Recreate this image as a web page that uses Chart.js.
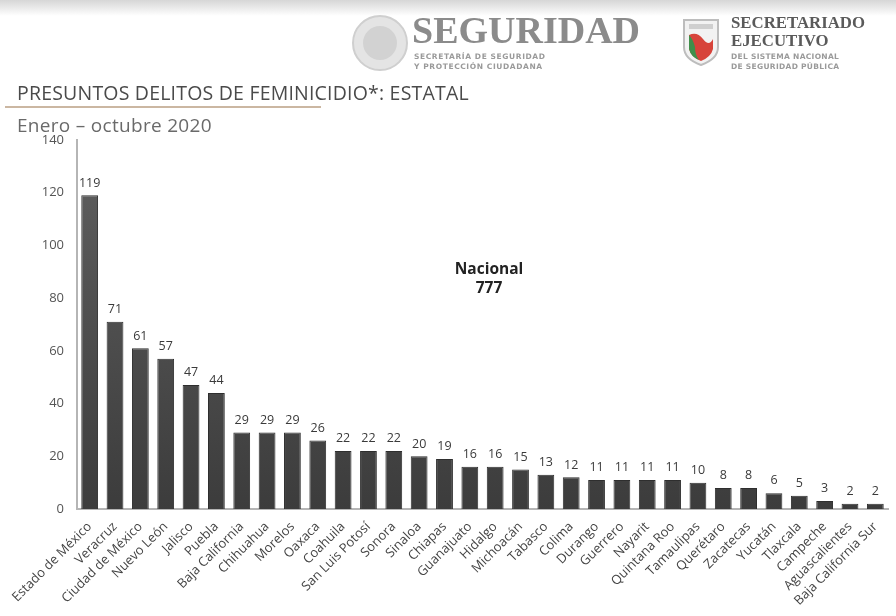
<!DOCTYPE html>
<html>
<head>
<meta charset="utf-8">
<script src="https://cdn.jsdelivr.net/npm/chart.js@4"></script>
<style>
  html, body { margin: 0; padding: 0; background: #fff; }
  #wrap { position: relative; width: 896px; height: 616px; overflow: hidden; font-family: "Open Sans", sans-serif; }
  #topband { position: absolute; left: 0; top: 0; width: 896px; height: 16px; background: linear-gradient(#d6d6d6, #fff); }
  #chart { position: absolute; left: 0; top: 0; }
  .t { position: absolute; white-space: nowrap; }
  #seg { left: 412px; top: 8px; font: bold 38px "Liberation Serif", serif; color: #8b8b8b; }
  #segsub { left: 414px; top: 52px; font: bold 7.5px "DejaVu Sans", sans-serif; color: #9a9a9a; line-height: 10px; letter-spacing: 0.6px; }
  #sec { left: 731px; top: 14px; font: bold 16.8px "Liberation Serif", serif; color: #5a5a5a; line-height: 18px; }
  #secsub { left: 731px; top: 52px; font: bold 7.5px "DejaVu Sans", sans-serif; color: #9a9a9a; line-height: 10px; letter-spacing: 0.3px; }
  #title { left: 17px; top: 79px; font-size: 19.5px; color: #4a4a4a; letter-spacing: 0.2px; }
  #rule { position: absolute; left: 5px; top: 106px; width: 316px; height: 2px; background: #cbb7a2; }
  #sub { left: 17px; top: 112px; font-size: 19px; color: #6a6a6a; letter-spacing: 0.3px; }
  #nac { left: 430px; top: 259px; width: 118px; text-align: center; font: bold 15.5px "Open Sans", sans-serif; color: #222; line-height: 19px; }
</style>
</head>
<body>
<div id="wrap">
  <div id="topband"></div>
  <canvas id="chart" width="896" height="616"></canvas>
  <svg class="t" style="left:350px;top:14px" width="60" height="58">
    <circle cx="30" cy="29" r="27" fill="#e4e4e4" stroke="#cfcfcf" stroke-width="2"/>
    <circle cx="30" cy="29" r="17" fill="#d2d2d2"/>
  </svg>
  <div class="t" id="seg">SEGURIDAD</div>
  <div class="t" id="segsub">SECRETARÍA DE SEGURIDAD<br>Y PROTECCIÓN CIUDADANA</div>
  <svg class="t" style="left:681px;top:17px" width="40" height="50">
    <path d="M3 3 H37 V30 Q37 42 20 48 Q3 42 3 30 Z" fill="#f2f2f2" stroke="#bdbdbd" stroke-width="2"/>
    <path d="M8 18 Q16 14 22 22 Q28 30 32 22 V32 Q30 40 20 44 Q10 40 8 32 Z" fill="#d7433a"/>
    <path d="M8 18 Q12 22 14 30 Q14 38 18 43 Q10 40 8 32 Z" fill="#3f8f4a"/>
    <rect x="8" y="7" width="24" height="5" fill="#cfcfcf"/>
  </svg>
  <div class="t" id="sec">SECRETARIADO<br>EJECUTIVO</div>
  <div class="t" id="secsub">DEL SISTEMA NACIONAL<br>DE SEGURIDAD PÚBLICA</div>
  <div class="t" id="title">PRESUNTOS DELITOS DE FEMINICIDIO*: ESTATAL</div>
  <div id="rule"></div>
  <div class="t" id="sub">Enero – octubre 2020</div>
  <div class="t" id="nac">Nacional<br>777</div>
</div>
<script>
const estados = [
  'Estado de México', 'Veracruz', 'Ciudad de México', 'Nuevo León', 'Jalisco', 'Puebla',
  'Baja California', 'Chihuahua', 'Morelos', 'Oaxaca', 'Coahuila', 'San Luis Potosí',
  'Sonora', 'Sinaloa', 'Chiapas', 'Guanajuato', 'Hidalgo', 'Michoacán', 'Tabasco', 'Colima',
  'Durango', 'Guerrero', 'Nayarit', 'Quintana Roo', 'Tamaulipas', 'Querétaro', 'Zacatecas',
  'Yucatán', 'Tlaxcala', 'Campeche', 'Aguascalientes', 'Baja California Sur'
]
const feminicidios = [
  119, 71, 61, 57, 47, 44, 29, 29, 29, 26, 22, 22, 22, 20, 19, 16, 16, 15, 13, 12,
  11, 11, 11, 11, 10, 8, 8, 6, 5, 3, 2, 2
]
const yTicks = [0, 20, 40, 60, 80, 100, 120, 140]

// etiquetas de valor sobre cada barra
const valueLabels = {
    id: 'valueLabels',
    afterDatasetsDraw(chart) {
        const ctx = chart.ctx
        const meta = chart.getDatasetMeta(0)
        ctx.save()
        ctx.font = '12.5px "Open Sans", sans-serif'
        ctx.fillStyle = '#3a3a3a'
        ctx.textAlign = 'center'
        ctx.textBaseline = 'bottom'
        meta.data.forEach((bar, i) => {
            ctx.fillText(feminicidios[i], bar.x, bar.y - 6)
        })
        ctx.restore()
    }
}

function barFill(context) {
    const area = context.chart.chartArea
    if (!area) return '#4a4a4a'
    const g = context.chart.ctx.createLinearGradient(0, area.top, 0, area.bottom)
    g.addColorStop(0, '#606060')
    g.addColorStop(1, '#3c3c3c')
    return g
}

new Chart(document.getElementById('chart'), {
    type: 'bar',
    data: {
        labels: estados,
        datasets: [{
            data: feminicidios,
            backgroundColor: barFill,
            borderColor: '#2e2e2e',
            borderWidth: 1,
            barPercentage: 0.72,
            categoryPercentage: 0.92
        }]
    },
    options: {
        responsive: false,
        animation: false,
        layout: { padding: { top: 140, right: 8, left: 0, bottom: 0 } },
        plugins: { legend: { display: false }, tooltip: { enabled: false } },
        scales: {
            x: {
                grid: { display: false },
                border: { color: '#b5b5b5', width: 2 },
                ticks: {
                    color: '#444',
                    font: { family: '"Open Sans", sans-serif', size: 13 },
                    minRotation: 45,
                    maxRotation: 45,
                    autoSkip: false,
                    padding: 2
                },
                afterFit(axis) { axis.height = 107 }
            },
            y: {
                min: 0,
                max: 140,
                grid: { display: false },
                border: { color: '#b5b5b5', width: 2 },
                afterBuildTicks(axis) { axis.ticks = yTicks.map(v => ({ value: v })) },
                ticks: {
                    color: '#555',
                    font: { family: '"Open Sans", sans-serif', size: 13 },
                    padding: 5
                },
                afterFit(axis) { axis.width = 77 }
            }
        }
    },
    plugins: [valueLabels]
})
</script>
</body>
</html>
